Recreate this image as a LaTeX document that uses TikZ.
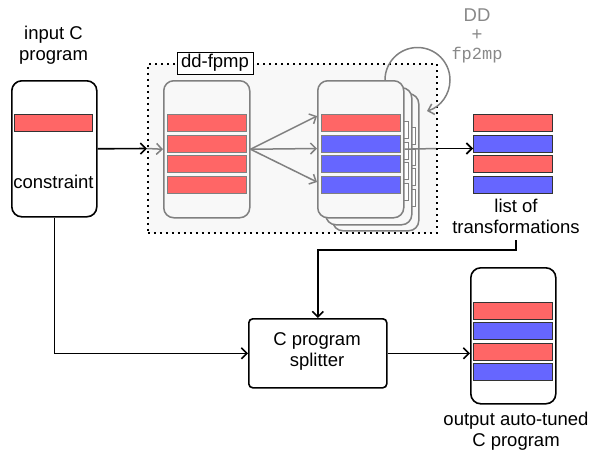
\documentclass[tikz,border=0pt]{standalone}
\usepackage{fontspec}
\setmainfont{Liberation Sans}
\setmonofont{Liberation Mono}
\usetikzlibrary{arrows.meta}
\definecolor{bgray}{HTML}{F8F8F8}
\definecolor{lgray}{HTML}{808080}
\definecolor{tgray}{HTML}{888888}
\definecolor{rbar}{HTML}{FF6666}
\definecolor{bbar}{HTML}{6666FF}
\definecolor{dbar}{HTML}{333333}
\begin{document}
\begin{tikzpicture}[x=1pt,y=-1pt,
  font=\fontsize{18.5}{21}\selectfont,
  barb/.style={-{Straight Barb[length=5.5pt,width=11pt]}},
  blk/.style={line width=1.6pt, black},
  gry/.style={line width=1.5pt, lgray},
  card/.style={draw=lgray, fill=bgray, line width=1.5pt, rounded corners=10pt,
    minimum width=86pt, minimum height=137pt, inner sep=0pt, anchor=north west},
  pbox/.style={draw=black, fill=white, line width=1.6pt, rounded corners=10pt,
    minimum width=85pt, minimum height=136pt, inner sep=0pt, anchor=north west},
  gbar/.style={draw=lgray, line width=1.3pt, minimum width=79pt, minimum height=17pt,
    inner sep=0pt, anchor=north west},
  kbar/.style={draw=dbar, line width=1pt, minimum width=79pt, minimum height=17pt,
    inner sep=0pt, anchor=north west},
  lbl/.style={align=center, inner sep=0pt}
]
\useasboundingbox (0,0) rectangle (592,458);

% dotted region
\node[draw=black, fill=bgray, line width=1.9pt, dash pattern=on 1.9pt off 4.1pt,
  minimum width=289pt, minimum height=169pt, inner sep=0pt, anchor=north west]
  (dd) at (147,63) {};
\node[draw=black, fill=white, line width=0.8pt, minimum width=76pt, minimum height=22pt,
  inner sep=0pt] (ddlabel) at (215,63) {dd-fpmp};

% input program
\node[lbl] (inlabel) at (53.5,45) {input C\\program};
\node[pbox] (in) at (11,80) {};
\node[kbar, fill=rbar, minimum width=78pt] (inbar) at (14,114) {};
\node[lbl] (constraint) at (53.5,182) {constraint};

% first card
\node[card] (c1) at (163,80) {};
\node[gbar, fill=rbar] (c1b1) at (167,114) {};
\node[gbar, fill=rbar] (c1b2) at (167,134.5) {};
\node[gbar, fill=rbar] (c1b3) at (167,155) {};
\node[gbar, fill=rbar] (c1b4) at (167,175.5) {};

% stacked cards (back to front)
\node[card] (c4) at (332,93) {};
\node[gbar, fill=white] (c4b1) at (336,127) {};
\node[gbar, fill=white] (c4b2) at (336,147.5) {};
\node[gbar, fill=white] (c4b3) at (336,168) {};
\node[gbar, fill=white] (c4b4) at (336,188.5) {};
\node[card] (c3) at (325,87) {};
\node[gbar, fill=white] (c3b1) at (329,121) {};
\node[gbar, fill=white] (c3b2) at (329,141.5) {};
\node[gbar, fill=white] (c3b3) at (329,162) {};
\node[gbar, fill=white] (c3b4) at (329,182.5) {};
\node[card] (c2) at (317,80) {};
\node[gbar, fill=rbar] (c2b1) at (321,114) {};
\node[gbar, fill=bbar] (c2b2) at (321,134.5) {};
\node[gbar, fill=bbar] (c2b3) at (321,155) {};
\node[gbar, fill=bbar] (c2b4) at (321,175.5) {};

% loop arrow
\coordinate (loopstart) at (385,80);
\draw[gry, barb] (loopstart) arc[start angle=180, end angle=433, radius=32.5];
\node[lbl, text=tgray] (ddtext) at (477,15) {DD};
\node[lbl, text=tgray] (plus) at (477,35) {+};
\node[lbl, text=tgray, font=\fontsize{17}{20}\ttfamily] (fp) at (477,55) {fp2mp};

% list of transformations
\node[kbar, fill=rbar] (l1) at (473,114) {};
\node[kbar, fill=bbar] (l2) at (473,134.5) {};
\node[kbar, fill=rbar] (l3) at (473,155) {};
\node[kbar, fill=bbar] (l4) at (473,175.5) {};
\node[lbl] (listlabel) at (516,216) {list of\\transformations};

% splitter
\node[draw=black, fill=white, line width=1.6pt, rounded corners=4pt,
  minimum width=138pt, minimum height=69pt, inner sep=0pt, anchor=north west]
  (split) at (248,318) {};
\node[lbl] (splittext) at (317,351) {C program\\splitter};

% output program
\node[pbox] (out) at (470,267) {};
\node[kbar, fill=rbar] (o1) at (473,302) {};
\node[kbar, fill=bbar] (o2) at (473,322) {};
\node[kbar, fill=rbar] (o3) at (473,342.5) {};
\node[kbar, fill=bbar] (o4) at (473,363) {};
\node[lbl] (outlabel) at (516,431) {output auto-tuned\\C program};

% connectors
\coordinate (ddin) at (147,148.5);
\coordinate (ddout) at (436,148.5);
\coordinate (listin) at (473,148.5);
\coordinate (t1) at (317,116);
\coordinate (t2) at (317,148.5);
\coordinate (t3) at (317,182);
\coordinate (lt) at (516,240);
\draw[blk, barb] (in.east) -- (ddin);
\draw[gry, barb] (ddin) -- (c1.west);
\draw[gry, barb] (c1.east) -- (t1);
\draw[gry, barb] (c1.east) -- (t2);
\draw[gry, barb] (c1.east) -- (t3);
\draw[gry] (c2.east) -- (ddout);
\draw[blk, barb] (ddout) -- (listin);
\draw[blk, barb] (lt) -- ++(0,10) -| (split.north);
\draw[blk, barb] (in.south) |- (split.west);
\draw[blk, barb] (split.east) -- (split.east -| out.west);
\end{tikzpicture}
\end{document}
